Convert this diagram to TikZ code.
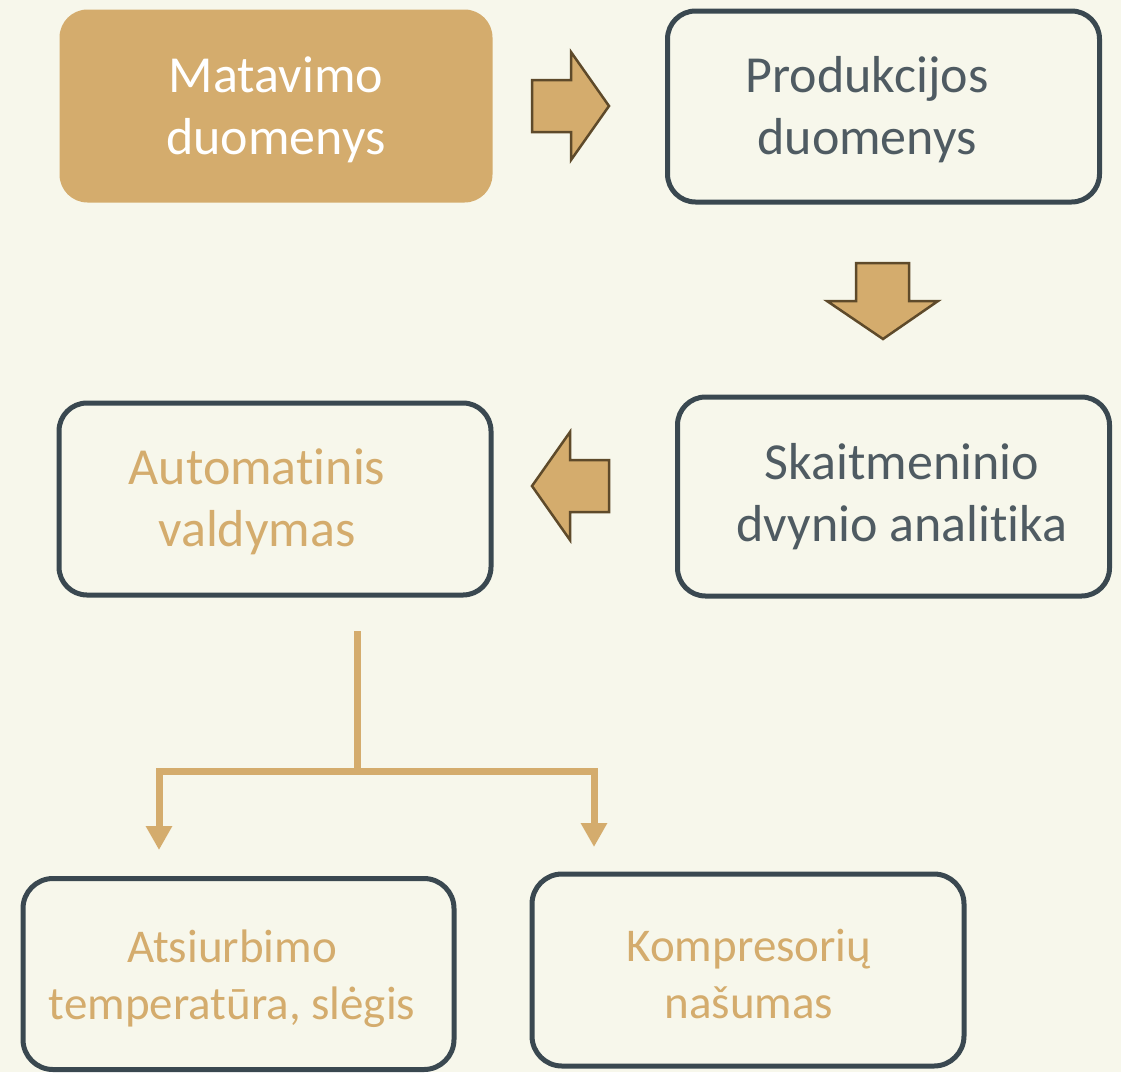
\documentclass[tikz,border=0pt]{standalone}
\usepackage{fontspec}
\setmainfont{Carlito}[Ligatures=NoCommon]
\usetikzlibrary{arrows.meta}
\definecolor{bg}{HTML}{F7F7EB}
\definecolor{tan}{HTML}{D4AC6D}
\definecolor{tanedge}{HTML}{5E4A2A}
\definecolor{boxedge}{HTML}{3A4850}
\definecolor{graytext}{HTML}{4F5B62}
\tikzset{
  box/.style={rounded corners=28pt, draw=boxedge, line width=5pt, inner sep=0pt, outer sep=0pt},
  bigtxt/.style={font=\fontsize{52}{62}\selectfont, align=center, inner sep=0pt},
  smalltxt/.style={font=\fontsize{47}{57}\selectfont, align=center, inner sep=0pt},
  blockarrow/.style={fill=tan, draw=tanedge, line width=2.5pt, line join=miter},
  conn/.style={draw=tan, line width=7pt},
  tiparrow/.style={{Triangle[length=24pt,width=25pt]}-{Triangle[length=24pt,width=25pt]}}
}
\begin{document}
\begin{tikzpicture}[x=1pt,y=-1pt]
\fill[bg] (0,0) rectangle (1121,1072);
\useasboundingbox (0,0) rectangle (1121,1072);
% boxes
\node[box, draw=none, fill=tan, minimum width=433pt, minimum height=193pt] (mat) at (276,106) {};
\node[box, minimum width=432pt, minimum height=191pt] (prod) at (883.5,106.5) {};
\node[box, minimum width=432pt, minimum height=199pt] (skait) at (893.5,496.5) {};
\node[box, minimum width=432pt, minimum height=192pt] (auto) at (275,499) {};
\node[box, rounded corners=30pt, minimum width=431pt, minimum height=191pt] (ats) at (238.5,974) {};
\node[box, rounded corners=30pt, minimum width=432pt, minimum height=192pt] (komp) at (748,970) {};
% texts
\node[bigtxt, text=white] (matt) at (276,110) {Matavimo\\duomenys};
\node[bigtxt, text=graytext] (prodt) at (867,110) {Produkcijos\\duomenys};
\node[bigtxt, text=graytext] (skaitt) at (902,497) {Skaitmeninio\\dvynio analitika};
\node[bigtxt, text=tan] (autot) at (257,502) {Automatinis\\valdymas};
\node[smalltxt, text=tan] (atst) at (232,979) {Atsiurbimo\\temperatūra, slėgis};
\node[smalltxt, text=tan] (kompt) at (749,974) {Kompresorių\\našumas};
% block arrows
\draw[blockarrow] (532,80) -- (571,80) -- (571,52) -- (609,106) -- (571,160) -- (571,132) -- (532,132) -- cycle;
\draw[blockarrow] (856,263) -- (909,263) -- (909,301) -- (938,301) -- (883,339) -- (827,301) -- (856,301) -- cycle;
\draw[blockarrow] (609,460) -- (570,460) -- (570,432) -- (532,486) -- (570,540) -- (570,512) -- (609,512) -- cycle;
% connector
\coordinate (trunk) at (357,631);
\coordinate (junc) at (357,771);
\coordinate (leftend) at (159,850);
\coordinate (rightend) at (594,847);
\draw[conn] (trunk) -- (junc);
\draw[conn, tiparrow] (leftend) |- (junc) -| (rightend);
\end{tikzpicture}
\end{document}
